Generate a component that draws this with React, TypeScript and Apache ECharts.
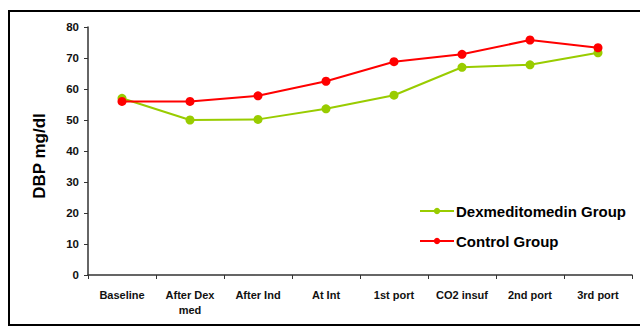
import React, { useEffect, useRef } from "react";
import * as echarts from "echarts";

const categories = ["Baseline", "After Dex\nmed", "After Ind", "At Int", "1st port", "CO2 insuf", "2nd port", "3rd port"];
const dexGroup = [57, 50, 50.2, 53.6, 58, 67, 67.8, 71.7];
const controlGroup = [56, 56, 57.8, 62.5, 68.8, 71.2, 75.8, 73.3];
const yTicks = [0, 10, 20, 30, 40, 50, 60, 70, 80];

export default function App() {
  const ref = useRef<HTMLDivElement>(null);
  useEffect(() => {
    const chart = echarts.init(ref.current!, null, { renderer: "svg" });
    const font = "'Liberation Sans', Arial, sans-serif";
    chart.setOption({
      animation: false,
      backgroundColor: "#fff",
      textStyle: { fontFamily: font },
      graphic: [
        {
          type: "rect",
          shape: { x: 9, y: 11, width: 700, height: 314 },
          style: { fill: "none", stroke: "#000", lineWidth: 2 },
          silent: true,
        },
        {
          type: "text",
          x: 39,
          y: 156,
          rotation: Math.PI / 2,
          style: {
            text: "DBP mg/dl",
            fontFamily: font,
            fontSize: 17,
            fontWeight: "bold",
            fill: "#000",
            align: "center",
            verticalAlign: "middle",
          },
          silent: true,
        },
      ],
      grid: { left: 88, right: 8, top: 27, bottom: 53 },
      legend: {
        orient: "vertical",
        left: 414,
        top: 197,
        itemGap: 12,
        itemWidth: 34,
        itemHeight: 8,
        textStyle: { fontFamily: font, fontSize: 15, fontWeight: "bold", color: "#000", padding: [0, 0, 0, -3], lineHeight: 18 },
        data: ["Dexmeditomedin Group", "Control Group"],
      },
      xAxis: {
        type: "category",
        data: categories,
        boundaryGap: true,
        axisLine: { lineStyle: { color: "#333", width: 1.5 } },
        axisTick: { show: true, length: 4, lineStyle: { color: "#333" } },
        axisLabel: {
          interval: 0,
          margin: 12,
          fontSize: 11,
          fontWeight: "bold",
          color: "#111",
          lineHeight: 15,
          fontFamily: font,
        },
        splitLine: { show: false },
      },
      yAxis: {
        type: "value",
        min: yTicks[0],
        max: yTicks[yTicks.length - 1],
        interval: 10,
        axisLine: { show: true, lineStyle: { color: "#333", width: 1.5 } },
        axisTick: { show: true, length: 4, lineStyle: { color: "#333" } },
        axisLabel: { fontSize: 11.5, fontWeight: "bold", color: "#111", margin: 9, fontFamily: font },
        splitLine: { show: false },
      },
      series: [
        {
          name: "Dexmeditomedin Group",
          type: "line",
          data: dexGroup,
          symbol: "circle",
          symbolSize: 9,
          itemStyle: { color: "#99cc00" },
          lineStyle: { color: "#99cc00", width: 2 },
          z: 2,
        },
        {
          name: "Control Group",
          type: "line",
          data: controlGroup,
          symbol: "circle",
          symbolSize: 9,
          itemStyle: { color: "#ff0000" },
          lineStyle: { color: "#ff0000", width: 2 },
          z: 3,
        },
      ],
    });
    return () => chart.dispose();
  }, []);
  return <div ref={ref} style={{ position: "fixed", left: 0, top: 0, width: 640, height: 328 }} />;
}
